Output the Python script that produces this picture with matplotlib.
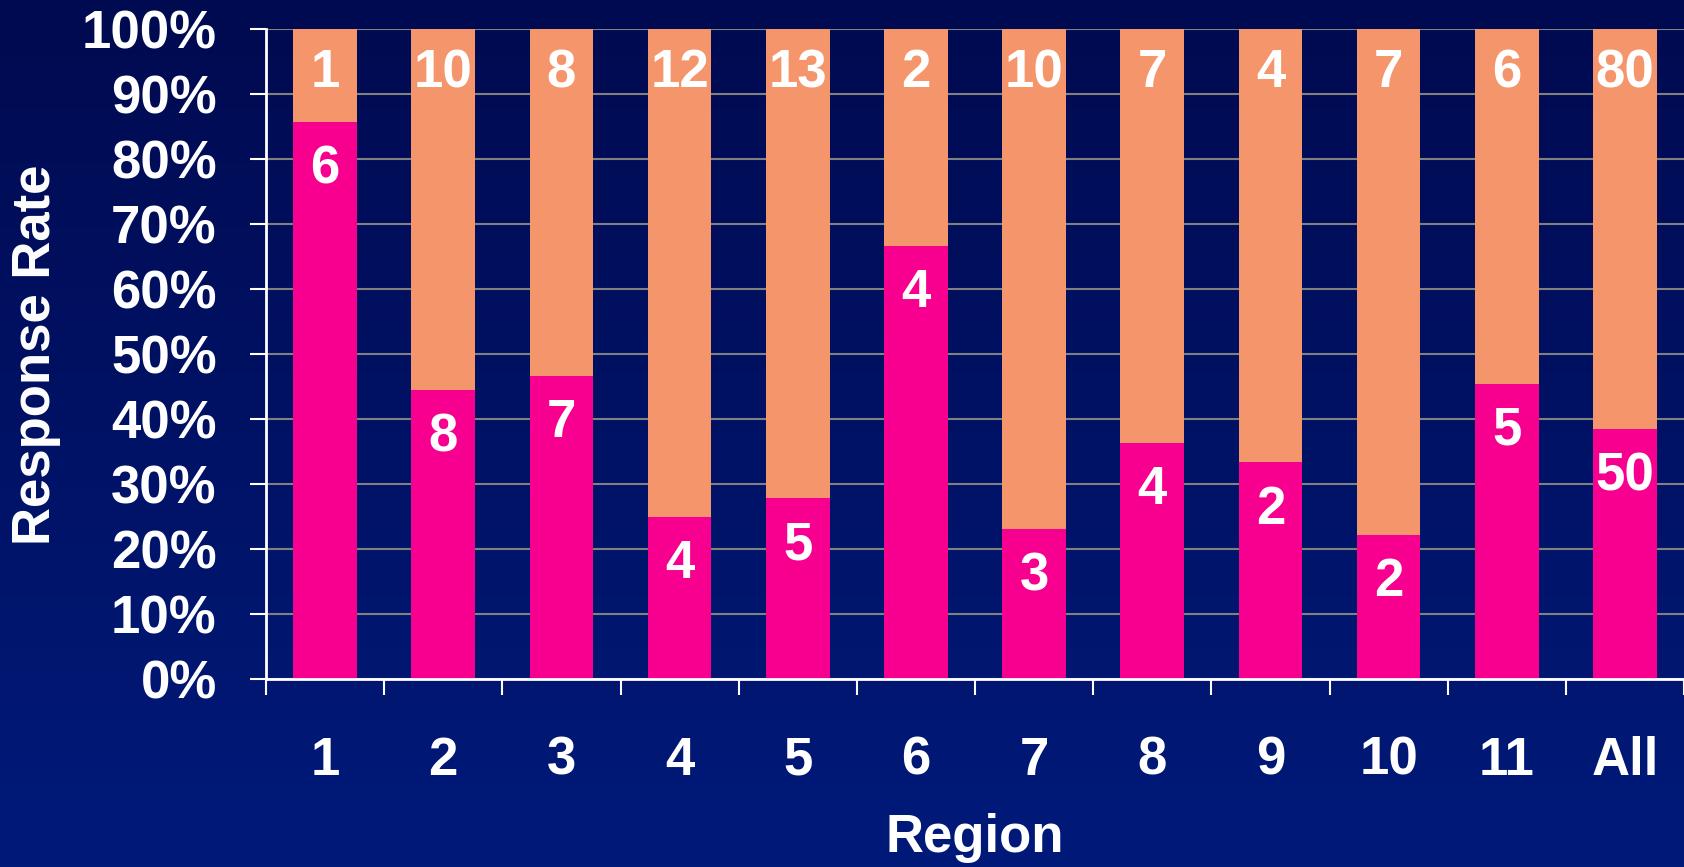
import matplotlib.pyplot as plt
import numpy as np

regions = ['1', '2', '3', '4', '5', '6', '7', '8', '9', '10', '11', 'All']
responded = [6, 8, 7, 4, 5, 4, 3, 4, 2, 2, 5, 50]
not_responded = [1, 10, 8, 12, 13, 2, 10, 7, 4, 7, 6, 80]
yticks = [0, 10, 20, 30, 40, 50, 60, 70, 80, 90, 100]

pink = '#F70090'
salmon = '#F5956B'

plt.rcParams['font.family'] = ['Liberation Sans', 'DejaVu Sans']
plt.rcParams['font.weight'] = 'bold'
fs = 38

fig = plt.figure(figsize=(16.84, 8.67), dpi=100)

# background gradient, dark navy at top to blue at bottom
bg = fig.add_axes([0, 0, 1, 1], zorder=-10)
grad = np.linspace(0, 1, 256).reshape(-1, 1)
top = np.array([0x00, 0x0A, 0x50]) / 255
bot = np.array([0x00, 0x1A, 0x7A]) / 255
img = top + grad[:, :, None] * (bot - top)
bg.imshow(img, aspect='auto', extent=[0, 1, 0, 1])
bg.axis('off')

ax = fig.add_axes([266 / 1684, 188 / 867, 1418 / 1684, 650 / 867])
ax.set_facecolor('none')

x = np.arange(len(regions))
resp = np.array(responded, dtype=float)
nresp = np.array(not_responded, dtype=float)
total = resp + nresp
p_resp = resp / total * 100
p_not = nresp / total * 100

ax.bar(x, p_resp, width=0.54, color=pink, zorder=3)
ax.bar(x, p_not, width=0.54, bottom=p_resp, color=salmon, zorder=3)

for i in range(len(regions)):
    ax.annotate(str(responded[i]), (x[i], p_resp[i]), xytext=(0, -34),
                textcoords='offset points', ha='center', va='center',
                color='white', fontsize=fs, fontweight='bold', zorder=4)
    ax.annotate(str(not_responded[i]), (x[i], 100), xytext=(0, -32),
                textcoords='offset points', ha='center', va='center',
                color='white', fontsize=fs, fontweight='bold', zorder=4)

ax.set_xlim(-0.5, len(regions) - 0.5)
ax.set_ylim(0, 100)
ax.set_yticks(yticks)
ax.set_yticklabels([str(t) + '%' for t in yticks])
ax.yaxis.grid(True, color='#808080', linewidth=1.5, zorder=1)

ax.set_xticks(np.arange(-0.5, len(regions), 1))
ax.set_xticklabels([])
ax.set_xticks(x, minor=True)
ax.set_xticklabels(regions, minor=True)

ax.tick_params(axis='y', which='major', direction='out', length=11.5, width=1.5,
               color='white', labelcolor='white', labelsize=fs, pad=24)
ax.tick_params(axis='x', which='major', direction='out', length=11.5, width=1.5,
               color='white')
ax.tick_params(axis='x', which='minor', length=0, labelcolor='white',
               labelsize=fs, pad=41)

for s in ['top', 'right']:
    ax.spines[s].set_visible(False)
for s in ['left', 'bottom']:
    ax.spines[s].set_color('white')
    ax.spines[s].set_linewidth(2)
    ax.spines[s].set_zorder(5)

fig.text(36 / 1684, 1 - 355 / 867, 'Response Rate', rotation=90, ha='center',
         va='center', color='white', fontsize=fs, fontweight='bold')
fig.text(975 / 1684, 1 - 838 / 867, 'Region', ha='center', va='center',
         color='white', fontsize=fs, fontweight='bold')

plt.savefig('out.png', dpi=100)
plt.close()
